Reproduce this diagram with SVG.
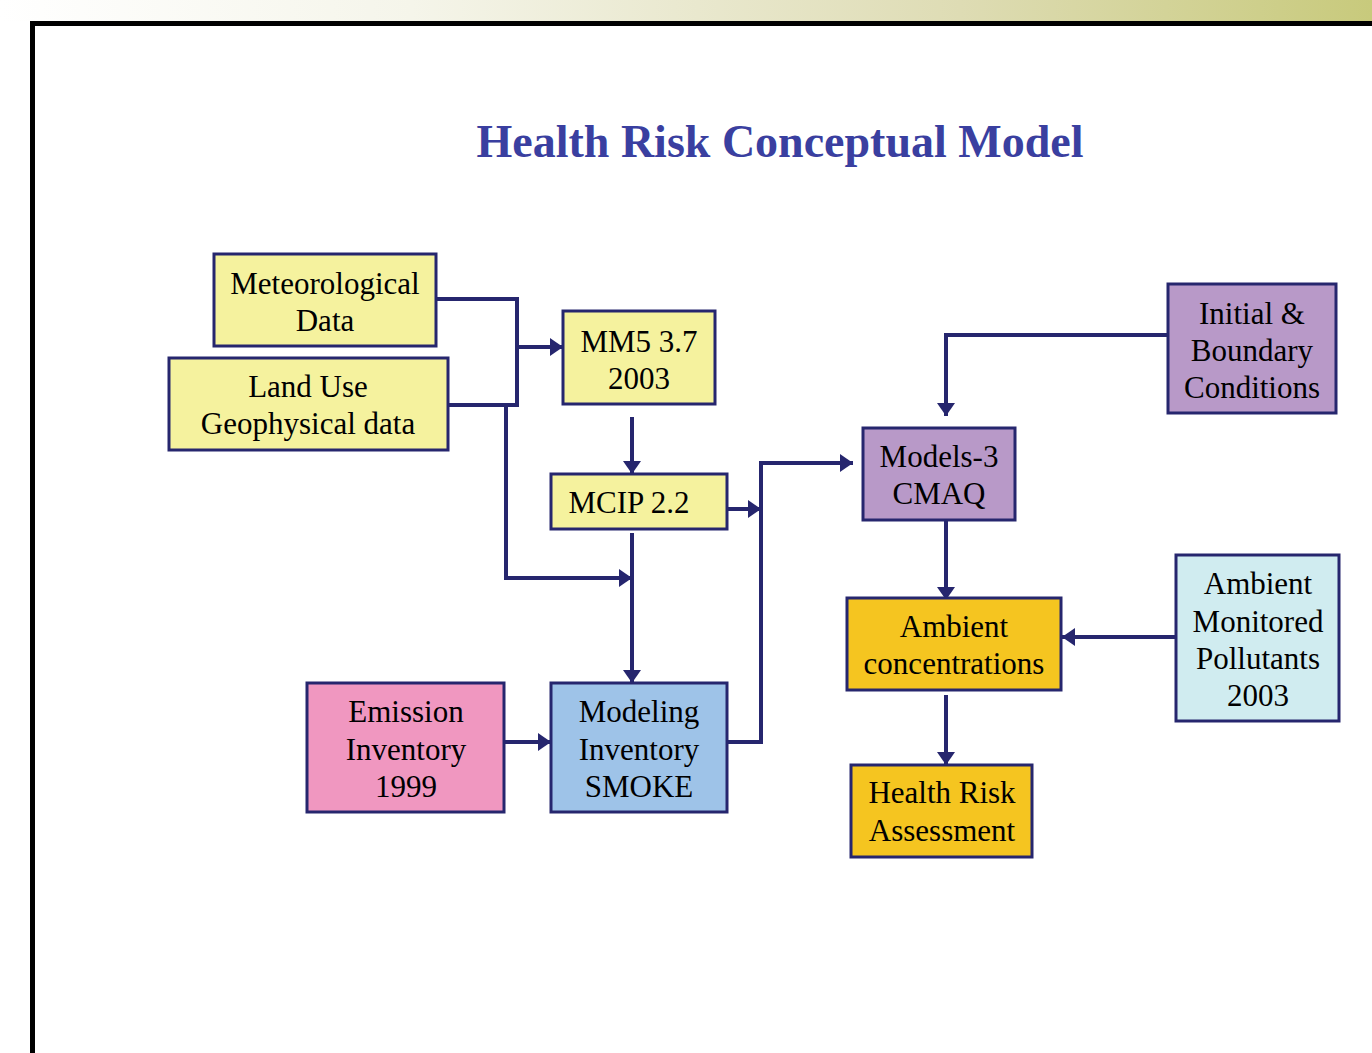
<svg xmlns="http://www.w3.org/2000/svg" width="1372" height="1053" viewBox="0 0 1372 1053">
<defs>
<linearGradient id="top" x1="0" y1="0" x2="1" y2="0">
<stop offset="0" stop-color="#ffffff"/>
<stop offset="0.3" stop-color="#f5f5ea"/>
<stop offset="0.7" stop-color="#dedcb4"/>
<stop offset="1" stop-color="#c8ca7c"/>
</linearGradient>
<marker id="ah" viewBox="0 0 13 18" refX="13" refY="9" markerWidth="13" markerHeight="18" markerUnits="userSpaceOnUse" orient="auto">
<path d="M0,0 L13,9 L0,18 Z" fill="#26266e"/>
</marker>
</defs>
<style>
.box{stroke:#26266e;stroke-width:3}
.t{font-family:"Liberation Serif","Times New Roman",serif;font-size:31px;fill:#000;text-anchor:middle}
.c{fill:none;stroke:#26266e;stroke-width:4}
.y{fill:#f5f29e}.p{fill:#b899c8}.o{fill:#f5c520}.lb{fill:#d0ecf0}.pk{fill:#f097c0}.b{fill:#9ec3e8}
</style>
<rect width="1372" height="1053" fill="#fff"/>
<rect x="0" y="0" width="1372" height="21" fill="url(#top)"/>
<rect x="30" y="21" width="1342" height="5" fill="#000"/>
<rect x="30" y="21" width="5" height="1032" fill="#000"/>
<text x="780" y="157" font-family="'Liberation Serif','Times New Roman',serif" font-size="46" font-weight="bold" fill="#3a3fa0" text-anchor="middle">Health Risk Conceptual Model</text>

<g id="connectors">
<polyline class="c" points="436,299 517,299 517,405 448,405"/>
<line class="c" x1="517" y1="347" x2="563" y2="347" marker-end="url(#ah)"/>
<polyline class="c" points="506,405 506,578 632,578" marker-end="url(#ah)"/>
<line class="c" x1="632" y1="417" x2="632" y2="474" marker-end="url(#ah)"/>
<line class="c" x1="632" y1="533" x2="632" y2="683" marker-end="url(#ah)"/>
<line class="c" x1="727" y1="509" x2="761" y2="509" marker-end="url(#ah)"/>
<polyline class="c" points="727,742 761,742 761,463 853,463" marker-end="url(#ah)"/>
<polyline class="c" points="1168,335 946,335 946,416" marker-end="url(#ah)"/>
<line class="c" x1="946" y1="520" x2="946" y2="600" marker-end="url(#ah)"/>
<line class="c" x1="1176" y1="637" x2="1062" y2="637" marker-end="url(#ah)"/>
<line class="c" x1="946" y1="695" x2="946" y2="765" marker-end="url(#ah)"/>
<line class="c" x1="504" y1="742" x2="551" y2="742" marker-end="url(#ah)"/>
</g>

<g id="met"><rect class="box y" x="214" y="254" width="222" height="92"/><text class="t" x="325" y="294">Meteorological</text><text class="t" x="325" y="331">Data</text></g>
<g id="landuse"><rect class="box y" x="169" y="358" width="279" height="92"/><text class="t" x="308" y="397">Land Use</text><text class="t" x="308" y="434">Geophysical data</text></g>
<g id="mm5"><rect class="box y" x="563" y="311" width="152" height="93"/><text class="t" x="639" y="352">MM5 3.7</text><text class="t" x="639" y="389">2003</text></g>
<g id="mcip"><rect class="box y" x="551" y="474" width="176" height="55"/><text class="t" x="629" y="513">MCIP 2.2</text></g>
<g id="cmaq"><rect class="box p" x="863" y="428" width="152" height="92"/><text class="t" x="939" y="467">Models-3</text><text class="t" x="939" y="504">CMAQ</text></g>
<g id="initial"><rect class="box p" x="1168" y="284" width="168" height="129"/><text class="t" x="1252" y="324">Initial &amp;</text><text class="t" x="1252" y="361">Boundary</text><text class="t" x="1252" y="398">Conditions</text></g>
<g id="ambconc"><rect class="box o" x="847" y="598" width="214" height="92"/><text class="t" x="954" y="637">Ambient</text><text class="t" x="954" y="674">concentrations</text></g>
<g id="ambmon"><rect class="box lb" x="1176" y="555" width="163" height="166"/><text class="t" x="1258" y="594">Ambient</text><text class="t" x="1258" y="632">Monitored</text><text class="t" x="1258" y="669">Pollutants</text><text class="t" x="1258" y="706">2003</text></g>
<g id="hra"><rect class="box o" x="851" y="765" width="181" height="92"/><text class="t" x="942" y="803">Health Risk</text><text class="t" x="942" y="841">Assessment</text></g>
<g id="emission"><rect class="box pk" x="307" y="683" width="197" height="129"/><text class="t" x="406" y="722">Emission</text><text class="t" x="406" y="760">Inventory</text><text class="t" x="406" y="797">1999</text></g>
<g id="smoke"><rect class="box b" x="551" y="683" width="176" height="129"/><text class="t" x="639" y="722">Modeling</text><text class="t" x="639" y="760">Inventory</text><text class="t" x="639" y="797">SMOKE</text></g>
</svg>
